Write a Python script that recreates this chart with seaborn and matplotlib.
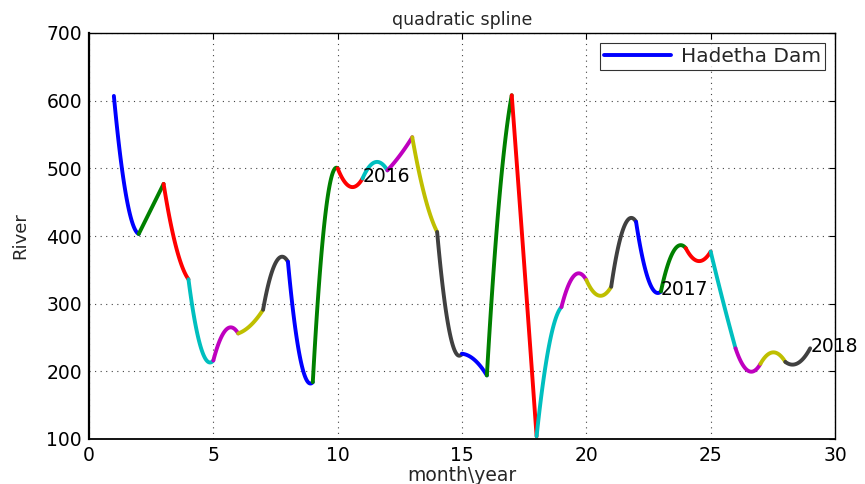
import numpy as np
import pandas as pd
import matplotlib
matplotlib.use("Agg")
import matplotlib.pyplot as plt
import seaborn as sns
from matplotlib.lines import Line2D

# ---- data ----
months = list(range(1, 30))
knot_values = [607, 403, 477, 336, 216, 256, 291, 362, 184, 500,
               485, 497, 546, 406, 226, 194, 608, 104, 295, 335,
               325, 421, 318, 382, 377, 234, 211, 214, 234]
# value of each quadratic piece at the middle of its month interval
mid_values = [458, 440, 384, 235, 261, 268, 360, 218, 430, 473,
              509, 519, 459, 258, 217, 455, 359, 238, 341, 312,
              412, 335, 377, 363, 303, 201, 228, 212]
year_labels = ["2016", "2017", "2018"]
year_months = [11, 23, 29]
legend_label = "Hadetha Dam"
seg_colors = [(0, 0, 1), (0, 0.5, 0), (1, 0, 0), (0, 0.75, 0.75),
              (0.75, 0, 0.75), (0.75, 0.75, 0), (0.25, 0.25, 0.25)]

# ---- build quadratic pieces ----
rows = []
for i in range(len(months) - 1):
    x0 = months[i]
    coef = np.polyfit([0.0, 0.5, 1.0], [knot_values[i], mid_values[i], knot_values[i + 1]], 2)
    t = np.linspace(0, 1, 60)
    for tt in t:
        rows.append({"month": x0 + tt, "value": np.polyval(coef, tt), "seg": i})
df = pd.DataFrame(rows)
palette = {i: seg_colors[i % len(seg_colors)] for i in range(len(months) - 1)}

sns.set_style("white")
plt.rcParams["font.family"] = ["DejaVu Sans"]

fig = plt.figure(figsize=(8.65, 4.84), dpi=100)
ax = fig.add_axes([89 / 865, 1 - 439 / 484, (835 - 89) / 865, (439 - 33) / 484])

sns.lineplot(data=df, x="month", y="value", hue="seg", palette=palette,
             linewidth=2.8, legend=False, ax=ax, sort=False, estimator=None)

for lab, m in zip(year_labels, year_months):
    ax.text(m, knot_values[months.index(m)] + 3, lab, fontsize=13.5,
            ha="left", va="center", color="black")

ax.set_xlim(0, 30)
ax.set_ylim(100, 700)
ax.set_xticks(range(0, 31, 5))
ax.set_yticks(range(100, 701, 100))
ax.grid(True, linestyle=(0, (1, 4)), color="#444444", linewidth=0.8)
ax.tick_params(direction="in", length=4, top=True, right=True,
               labelsize=13.5, colors="black", pad=5)
for s in ax.spines.values():
    s.set_visible(True)
    s.set_color("black")
    s.set_linewidth(1.0)
ax.spines["left"].set_linewidth(1.6)
ax.spines["bottom"].set_linewidth(1.3)

ax.set_title("quadratic spline", fontsize=12.5, pad=6)
ax.set_xlabel("month\\year", fontsize=13.5, labelpad=1)
ax.set_ylabel("River", fontsize=13, labelpad=12)

handle = Line2D([0], [0], color=seg_colors[0], linewidth=2.8)
leg = ax.legend([handle], [legend_label], loc="upper right", fontsize=14.5,
                frameon=True, fancybox=False, edgecolor="black",
                handlelength=3.3, handletextpad=0.5,
                borderaxespad=0.5, borderpad=0.2)
leg.get_frame().set_linewidth(0.8)

fig.savefig("out.png", dpi=100)
